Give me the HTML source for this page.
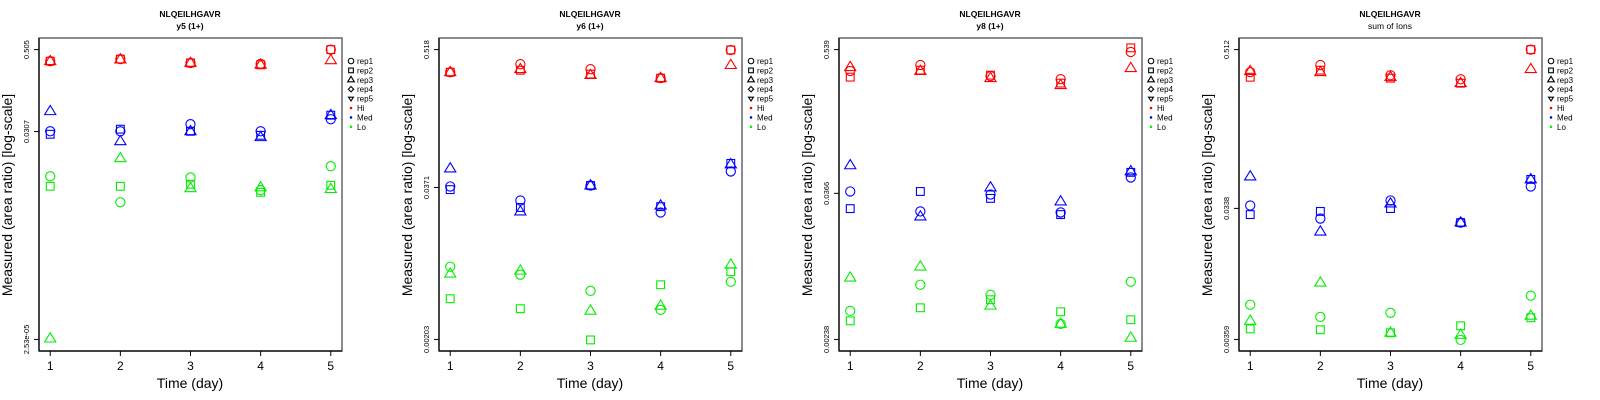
<!DOCTYPE html>
<html><head><meta charset="utf-8"><style>
html,body{margin:0;padding:0;background:#fff;}
svg{display:block;font-family:"Liberation Sans",sans-serif;}
</style></head><body>
<svg id="chart" width="1600" height="400" viewBox="0 0 1600 400" xmlns="http://www.w3.org/2000/svg"></svg>
<script>
const days = [1,2,3,4,5];
const panelTitles = ["y5 (1+)","y6 (1+)","y8 (1+)","sum of Ions"];
const peptide = "NLQEILHGAVR";
const yTicks1 = [0.505, 0.0307, 2.53e-05];
const yTicks2 = [0.518, 0.0371, 0.00203];
const yTicks3 = [0.539, 0.0366, 0.00238];
const yTicks4 = [0.512, 0.0338, 0.00359];
const yTickLabels1 = ["0.505","0.0307","2.53e-05"];
const yTickLabels2 = ["0.518","0.0371","0.00203"];
const yTickLabels3 = ["0.539","0.0366","0.00238"];
const yTickLabels4 = ["0.512","0.0338","0.00359"];
const legendLabels = ["rep1","rep2","rep3","rep4","rep5","Hi","Med","Lo"];
// panel 1
const p1HiRep1 = [0.34,0.365,0.32,0.31,0.505];
const p1HiRep2 = [0.34,0.365,0.32,0.30,0.505];
const p1HiRep3 = [0.34,0.36,0.32,0.30,0.35];
const p1MedRep1 = [0.031,0.031,0.0395,0.031,0.0468];
const p1MedRep2 = [0.028,0.0333,0.031,0.027,0.0537];
const p1MedRep3 = [0.0615,0.022,0.031,0.0253,0.0537];
const p1LoRep1 = [0.00665,0.00274,0.0064,0.00414,0.0094];
const p1LoRep2 = [0.00473,0.00473,0.00507,0.00385,0.0049];
const p1LoRep3 = [2.6e-05,0.0123,0.00442,0.00455,0.0043];
// panel 2
const p2HiRep1 = [0.336,0.392,0.356,0.30,0.514];
const p2HiRep2 = [0.336,0.349,0.324,0.30,0.514];
const p2HiRep3 = [0.336,0.356,0.318,0.30,0.385];
const p2MedRep1 = [0.0378,0.0289,0.0385,0.0230,0.0504];
const p2MedRep2 = [0.0356,0.0253,0.0385,0.0257,0.0588];
const p2MedRep3 = [0.0533,0.0234,0.0385,0.0262,0.0577];
const p2LoRep1 = [0.00815,0.0070,0.00514,0.00357,0.00611];
const p2LoRep2 = [0.00442,0.00365,0.00201,0.00577,0.00741];
const p2LoRep3 = [0.00713,0.00755,0.00351,0.00386,0.00847];
// panel 3
const p3HiRep1 = [0.361,0.404,0.328,0.310,0.515];
const p3HiRep2 = [0.322,0.367,0.334,0.288,0.557];
const p3HiRep3 = [0.388,0.361,0.316,0.277,0.381];
const p3MedRep1 = [0.0379,0.0261,0.0358,0.0256,0.0493];
const p3MedRep2 = [0.0275,0.0379,0.0333,0.0246,0.0542];
const p3MedRep3 = [0.0618,0.0237,0.0408,0.0314,0.0552];
const p3LoRep1 = [0.00406,0.00662,0.00548,0.00318,0.007];
const p3LoRep2 = [0.00337,0.0043,0.005,0.00399,0.00344];
const p3LoRep3 = [0.00755,0.00929,0.00447,0.00318,0.00245];
// panel 4
const p4HiRep1 = [0.348,0.393,0.33,0.308,0.512];
const p4HiRep2 = [0.319,0.36,0.314,0.288,0.512];
const p4HiRep3 = [0.354,0.348,0.319,0.288,0.366];
const p4MedRep1 = [0.0355,0.0284,0.0387,0.0265,0.0492];
const p4MedRep2 = [0.0304,0.0321,0.0337,0.0265,0.0555];
const p4MedRep3 = [0.0583,0.0227,0.0367,0.0265,0.0555];
const p4LoRep1 = [0.0065,0.00528,0.00566,0.00356,0.00759];
const p4LoRep2 = [0.0043,0.00423,0.00402,0.00453,0.0052];
const p4LoRep3 = [0.00493,0.00948,0.00402,0.00388,0.00538];

const panels = [
 {ticks:yTicks1, labels:yTickLabels1, hi:[p1HiRep1,p1HiRep2,p1HiRep3], med:[p1MedRep1,p1MedRep2,p1MedRep3], lo:[p1LoRep1,p1LoRep2,p1LoRep3]},
 {ticks:yTicks2, labels:yTickLabels2, hi:[p2HiRep1,p2HiRep2,p2HiRep3], med:[p2MedRep1,p2MedRep2,p2MedRep3], lo:[p2LoRep1,p2LoRep2,p2LoRep3]},
 {ticks:yTicks3, labels:yTickLabels3, hi:[p3HiRep1,p3HiRep2,p3HiRep3], med:[p3MedRep1,p3MedRep2,p3MedRep3], lo:[p3LoRep1,p3LoRep2,p3LoRep3]},
 {ticks:yTicks4, labels:yTickLabels4, hi:[p4HiRep1,p4HiRep2,p4HiRep3], med:[p4MedRep1,p4MedRep2,p4MedRep3], lo:[p4LoRep1,p4LoRep2,p4LoRep3]}
];
const NS = "http://www.w3.org/2000/svg";
const svg = document.getElementById("chart");
function mk(tag, attrs, parent){
  const e = document.createElementNS(NS, tag);
  for (const k in attrs) e.setAttribute(k, attrs[k]);
  (parent||svg).appendChild(e);
  return e;
}
function marker(g, shape, cx, cy, color, scale){
  const s = scale||1; let e;
  if (shape===0){ e = mk("circle",{cx:cx,cy:cy,r:4.6*s,fill:"none",stroke:color,"stroke-width":1.1},g); }
  else if (shape===1){ const h=3.9*s; e = mk("rect",{x:cx-h,y:cy-h,width:2*h,height:2*h,fill:"none",stroke:color,"stroke-width":1.1},g); }
  else if (shape===2){ const w=5.6*s, t=5.8*s, b=3.4*s; e = mk("polygon",{points:`${cx-w},${cy+b} ${cx+w},${cy+b} ${cx},${cy-t}`,fill:"none",stroke:color,"stroke-width":1.1},g); }
  else if (shape===3){ const r=4.5*s; e = mk("polygon",{points:`${cx},${cy-r} ${cx+r},${cy} ${cx},${cy+r} ${cx-r},${cy}`,fill:"none",stroke:color,"stroke-width":1.1},g); }
  else { const w=4*s,t=4*s; e = mk("polygon",{points:`${cx-w},${cy-t*0.6} ${cx+w},${cy-t*0.6} ${cx},${cy+t}`,fill:"none",stroke:color,"stroke-width":1.1},g); }
  return e;
}
const levelColors = ["#ff0000","#0000ff","#00ee00"];
const levelNames = ["hi","med","lo"];
panels.forEach((p, pi) => {
  const ox = pi*400;
  const g = mk("g",{transform:`translate(${ox},0)`});
  
  
  const L=39, R=342, T=38, B=351;
  const yMax = Math.max(...p.ticks), yMin = Math.min(...p.ticks);
  const lmax = Math.log10(yMax), lmin = Math.log10(yMin);
  const pad = (lmax-lmin)*0.04;
  const yS = v => B - (Math.log10(v)-(lmin-pad))/((lmax+pad)-(lmin-pad))*(B-T);
  const xPad = (5-1)*0.04;
  const xS = d => L + (d-(1-xPad))/((5+xPad)-(1-xPad))*(R-L);
  // titles
  const t1 = mk("text",{x:190,y:17,"text-anchor":"middle","font-size":"8.5","font-weight":"bold"},g);
  t1.textContent = peptide;
  
  
  const t2 = mk("text",{x:190,y:29,"text-anchor":"middle","font-size":"8.5","font-weight":pi===3?"normal":"bold"},g);
  t2.textContent = panelTitles[pi];
  
  
  // box
  const box = mk("rect",{x:L,y:T,width:R-L,height:B-T,fill:"none",stroke:"#666","stroke-width":1.5},g);
  
  
  const ax = mk("line",{x1:L,y1:B,x2:R,y2:B,stroke:"#000","stroke-width":1.2},g);
  
  
  const ay = mk("line",{x1:L,y1:T,x2:L,y2:B,stroke:"#000","stroke-width":1.2},g);
  
  
  // x ticks
  days.forEach(d => {
    const x = xS(d);
    const tk = mk("line",{x1:x,y1:B,x2:x,y2:B+5,stroke:"#000","stroke-width":1},g);
    
    
    const tl = mk("text",{x:x,y:370,"text-anchor":"middle","font-size":"12"},g);
    tl.textContent = String(d);
    
    
  });
  // y ticks
  p.ticks.forEach((v, i) => {
    const y = yS(v);
    const tk = mk("line",{x1:L-5,y1:y,x2:L,y2:y,stroke:"#000","stroke-width":1},g);
    
    
    const tl = mk("text",{x:29,y:y,"text-anchor":"middle","font-size":"7.5",transform:`rotate(-90 29 ${y})`},g);
    tl.textContent = p.labels[i];
    
    
  });
  const xt = mk("text",{x:190,y:388,"text-anchor":"middle","font-size":"14"},g);
  xt.textContent = "Time (day)";
  
  
  const yt = mk("text",{x:12,y:195,"text-anchor":"middle","font-size":"14",transform:"rotate(-90 12 195)"},g);
  yt.textContent = "Measured (area ratio) [log-scale]";
  
  
  // points
  [p.hi,p.med,p.lo].forEach((reps, li) => {
    reps.forEach((vals, ri) => {
      vals.forEach((v, di) => {
        const m = marker(g, ri, xS(days[di]), yS(v), levelColors[li]);
        
        
      });
    });
  });
  // legend
  legendLabels.forEach((lab, i) => {
    const y = 61 + i*9.4;
    let m;
    if (i < 5) m = marker(g, i, 351, y, "#000", 0.6);
    else m = mk("circle",{cx:351,cy:y,r:1.3,fill:levelColors[i-5]},g);
    
    
    const tl = mk("text",{x:357,y:y+3,"font-size":"8"},g);
    tl.textContent = lab;
    
    
  });
});
</script>
</body></html>
